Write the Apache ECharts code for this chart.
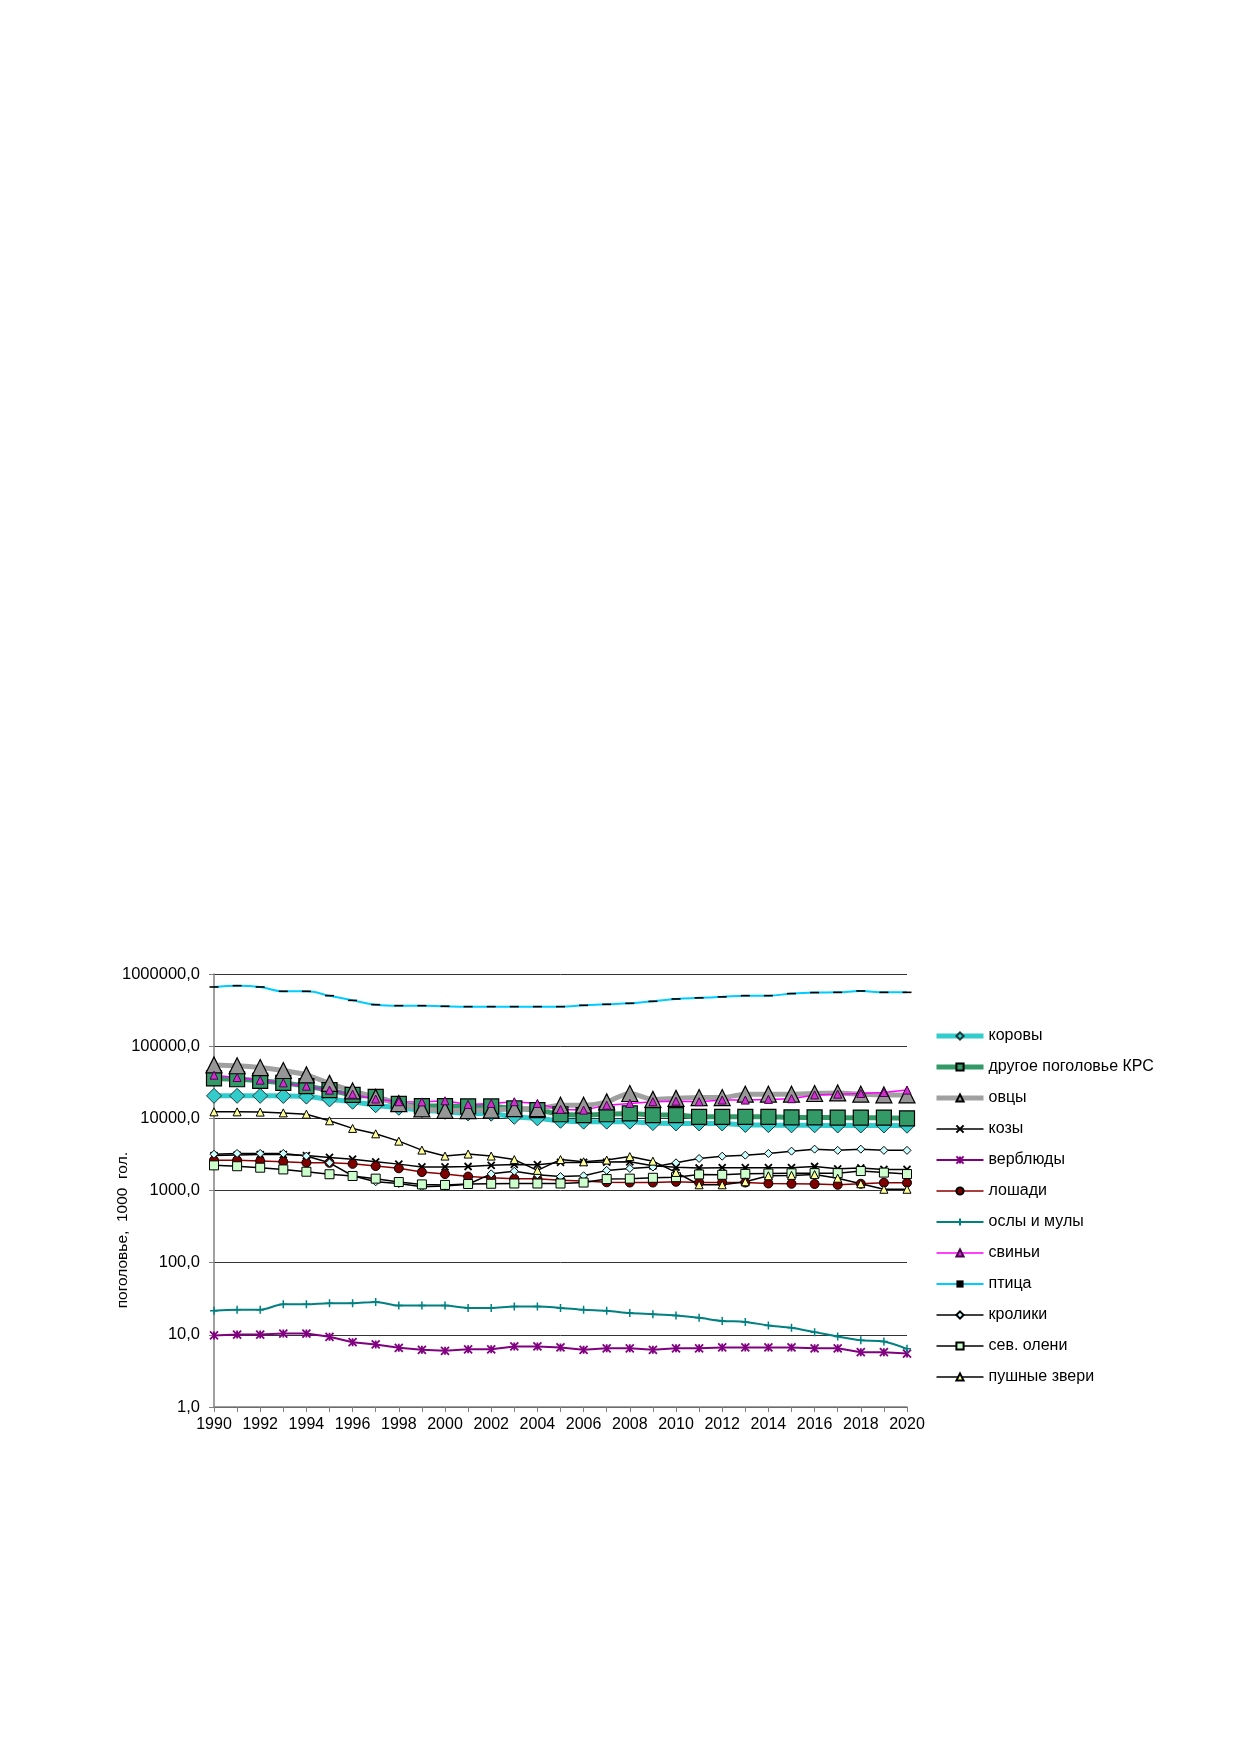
<!DOCTYPE html>
<html>
<head>
<meta charset="utf-8">
<title>Поголовье скота</title>
<script src="https://cdn.jsdelivr.net/npm/echarts@6/dist/echarts.min.js"></script>
<style>
  html, body { margin: 0; padding: 0; background: #fff; }
  #main { width: 1239px; height: 1754px; }
</style>
</head>
<body>
<div id="main"></div>
<script>
// годы
var years = [];
for (var y = 1990; y <= 2020; y++) years.push(String(y));

// поголовье, тыс. голов
var korovy = [20500, 20500, 20500, 20400, 20000, 18300, 17000, 15200, 14000, 13000, 12300, 11700, 11600, 10500, 10000,
  9250, 9000, 9000, 9000, 8600, 8500, 8500, 8500, 8100, 8050, 8000, 8000, 7950, 7950, 7950, 7900];
var krs = [35700, 34800, 33100, 31000, 27900, 24600, 21100, 19800, 15900, 14800, 14800, 14600, 14600, 13700, 13000,
  11400, 11100, 11400, 11700, 11100, 11100, 10500, 10500, 10500, 10500, 10300, 10300, 10200, 10200, 10200, 10000];
var ovtsy = [55000, 53500, 50500, 46000, 40000, 30500, 24000, 19500, 16000, 13500, 12900, 12800, 13000, 13600, 13600,
  15200, 15200, 16900, 22100, 18300, 18900, 19400, 19400, 21600, 21600, 21600, 22100, 22500, 21600, 21100, 21100];
var kozy = [3050, 3100, 3150, 3150, 3050, 2870, 2720, 2500, 2320, 2120, 2120, 2150, 2230, 2300, 2280,
  2450, 2450, 2480, 2500, 2200, 2100, 2050, 2070, 2070, 2070, 2070, 2150, 2000, 2050, 1960, 1960];
var verblyudy = [9.8, 10.1, 10.1, 10.4, 10.4, 9.4, 7.9, 7.35, 6.6, 6.2, 6.0, 6.3, 6.3, 6.9, 6.9,
  6.7, 6.2, 6.5, 6.5, 6.2, 6.5, 6.5, 6.7, 6.7, 6.7, 6.7, 6.5, 6.5, 5.75, 5.75, 5.5];
var loshadi = [2620, 2620, 2560, 2500, 2430, 2420, 2340, 2180, 2030, 1800, 1690, 1560, 1500, 1460, 1450,
  1390, 1350, 1300, 1290, 1290, 1320, 1290, 1290, 1290, 1250, 1240, 1230, 1200, 1240, 1280, 1280];
var osly = [21.5, 22.2, 22.2, 26.5, 26.5, 27.4, 27.4, 28.6, 25.4, 25.4, 25.4, 23.6, 23.6, 24.6, 24.6,
  23.6, 22.2, 21.5, 20.0, 19.3, 18.5, 17.2, 15.6, 15.1, 13.5, 12.5, 10.9, 9.5, 8.4, 8.1, 6.4];
var sviniy = [39600, 36800, 33800, 31000, 27900, 24600, 21600, 18500, 17000, 16900, 17500, 15600, 16100, 17000, 16100,
  13300, 13000, 15200, 16100, 17000, 17300, 17000, 17900, 17900, 18300, 18700, 21100, 21600, 22100, 22800, 24600];
var ptitsa = [661000, 689000, 661000, 575000, 575000, 501000, 431000, 376000, 364000, 364000, 357000, 353000, 353000, 353000, 353000,
  353000, 368000, 380000, 392000, 418000, 451000, 467000, 482000, 501000, 501000, 535000, 553000, 557000, 582000, 557000, 557000];
var kroliki = [3180, 3260, 3260, 3260, 3000, 2420, 1600, 1320, 1250, 1130, 1150, 1220, 1700, 1850, 1650,
  1560, 1600, 1900, 2020, 2110, 2420, 2780, 2990, 3090, 3260, 3510, 3740, 3600, 3740, 3600, 3600];
var oleni = [2230, 2170, 2070, 1960, 1820, 1680, 1590, 1460, 1310, 1215, 1195, 1230, 1240, 1250, 1250,
  1250, 1290, 1440, 1460, 1500, 1530, 1670, 1650, 1700, 1720, 1730, 1740, 1740, 1860, 1770, 1690];
var pushnye = [12300, 12300, 12200, 11900, 11400, 9250, 7250, 6100, 4830, 3630, 3000, 3200, 3000, 2680, 1900,
  2680, 2500, 2640, 2950, 2550, 1780, 1200, 1200, 1320, 1600, 1620, 1660, 1480, 1240, 1040, 1040];

var FONT = 'Liberation Sans, Arial, sans-serif';

var X_PATH = 'path://M0,0L10,10M10,0L0,10';
var STAR_PATH = 'path://M0,0L10,10M10,0L0,10M5,0L5,10';
var PLUS_PATH = 'path://M5,0L5,10M0,5L10,5';
var DASH_PATH = 'path://M0,0L10,0L10,4L0,4Z';

var series = [
  {
    name: 'коровы', data: korovy, smooth: 0.3,
    symbol: 'diamond', symbolSize: 15,
    lineStyle: { color: '#33CCCC', width: 5 },
    itemStyle: { color: '#33CCCC', borderColor: '#1a3a3a', borderWidth: 1 }
  },
  {
    name: 'другое поголовье КРС', data: krs, smooth: 0.3,
    symbol: 'rect', symbolSize: 15,
    lineStyle: { color: '#339966', width: 5 },
    itemStyle: { color: '#339966', borderColor: '#000', borderWidth: 1.2 }
  },
  {
    name: 'овцы', data: ovtsy, smooth: 0.3,
    symbol: 'triangle', symbolSize: 16,
    lineStyle: { color: '#A0A0A0', width: 5 },
    itemStyle: { color: '#969696', borderColor: '#000', borderWidth: 1.2 }
  },
  {
    name: 'козы', data: kozy,
    symbol: X_PATH, symbolSize: 7,
    lineStyle: { color: '#000', width: 1.5 },
    itemStyle: { color: '#000', borderColor: '#000', borderWidth: 1.8 }
  },
  {
    name: 'верблюды', data: verblyudy,
    symbol: STAR_PATH, symbolSize: 8,
    lineStyle: { color: '#800080', width: 2 },
    itemStyle: { color: '#800080', borderColor: '#800080', borderWidth: 1.8 }
  },
  {
    name: 'лошади', data: loshadi,
    symbol: 'circle', symbolSize: 9,
    lineStyle: { color: '#8B0000', width: 1.5 },
    itemStyle: { color: '#800000', borderColor: '#000', borderWidth: 1 }
  },
  {
    name: 'ослы и мулы', data: osly, smooth: 0.3,
    symbol: PLUS_PATH, symbolSize: 8,
    lineStyle: { color: '#008080', width: 2 },
    itemStyle: { color: '#008080', borderColor: '#008080', borderWidth: 1.5 }
  },
  {
    name: 'свиньи', data: sviniy,
    symbol: 'triangle', symbolSize: 8,
    lineStyle: { color: '#FF00FF', width: 1.5 },
    itemStyle: { color: '#CC33CC', borderColor: '#4d004d', borderWidth: 1 }
  },
  {
    name: 'птица', data: ptitsa, smooth: 0.4,
    symbol: DASH_PATH, symbolSize: [9, 4], symbolKeepAspect: true,
    lineStyle: { color: '#00CCFF', width: 2 },
    itemStyle: { color: '#000', borderWidth: 0 }
  },
  {
    name: 'кролики', data: kroliki,
    symbol: 'diamond', symbolSize: 8,
    lineStyle: { color: '#000', width: 1.5 },
    itemStyle: { color: '#CCFFFF', borderColor: '#000', borderWidth: 1 }
  },
  {
    name: 'сев. олени', data: oleni,
    symbol: 'rect', symbolSize: 9,
    lineStyle: { color: '#000', width: 1.5 },
    itemStyle: { color: '#CCFFCC', borderColor: '#000', borderWidth: 1 }
  },
  {
    name: 'пушные звери', data: pushnye,
    symbol: 'triangle', symbolSize: 8,
    lineStyle: { color: '#000', width: 1.5 },
    itemStyle: { color: '#FFFF99', borderColor: '#000', borderWidth: 1 }
  }
];

series.forEach(function (s) {
  s.type = 'line';
  s.showAllSymbol = true;
});

// легенда: толщина линии как у серии
var legendData = series.map(function (s) {
  return { name: s.name, lineStyle: { width: s.lineStyle.width } };
});

var myChart = echarts.init(document.getElementById('main'));
var option = {
  animation: false,
  backgroundColor: '#fff',
  textStyle: { fontFamily: FONT },
  grid: { left: 214, top: 974, right: 332, bottom: 347, containLabel: false },
  legend: {
    orient: 'vertical',
    left: 929,
    top: 1023,
    itemWidth: 47,
    itemHeight: 9,
    itemGap: 15,
    textStyle: { fontSize: 16, color: '#000', fontFamily: FONT },
    data: legendData
  },
  xAxis: {
    type: 'category',
    data: years,
    boundaryGap: false,
    axisLine: { lineStyle: { color: '#808080', width: 1.5 } },
    axisTick: { show: true, interval: 0, length: 5, lineStyle: { color: '#808080' } },
    axisLabel: { interval: 1, color: '#000', fontSize: 16, margin: 10, fontFamily: FONT },
    splitLine: { show: false }
  },
  yAxis: {
    type: 'log',
    logBase: 10,
    min: 1,
    max: 1000000,
    axisLine: { show: true, lineStyle: { color: '#808080', width: 1.5 } },
    axisTick: { show: true, length: 5, lineStyle: { color: '#808080' } },
    axisLabel: {
      color: '#000', fontSize: 16.5, margin: 14, fontFamily: FONT,
      formatter: function (v) { return Number(v).toFixed(1).replace('.', ','); }
    },
    splitLine: { show: true, lineStyle: { color: '#333', width: 1 } }
  },
  graphic: [{
    type: 'text',
    left: 115,
    top: 1152,
    rotation: Math.PI / 2,
    style: {
      text: 'поголовье,  1000  гол.',
      font: '15.5px ' + FONT,
      fill: '#000'
    }
  }],
  series: series
};
myChart.setOption(option);
</script>
</body>
</html>
